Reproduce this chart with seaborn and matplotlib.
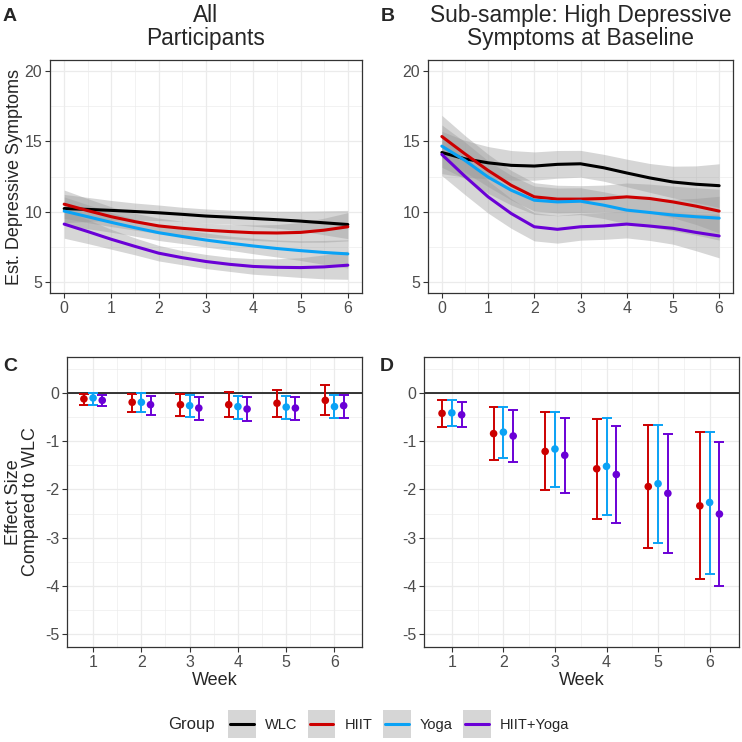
import numpy as np
import pandas as pd
import matplotlib
matplotlib.use("Agg")
import matplotlib.pyplot as plt
from matplotlib.patches import Rectangle
from matplotlib.lines import Line2D
import seaborn as sns

sns.set_style("whitegrid")
plt.rcParams['font.family'] = ['Liberation Sans', 'DejaVu Sans']
plt.rcParams['axes.unicode_minus'] = False

groups = ['WLC', 'HIIT', 'Yoga', 'HIIT+Yoga']
colors = {'WLC': '#000000', 'HIIT': '#CC0000', 'Yoga': '#0AA2F5', 'HIIT+Yoga': '#6A00D6'}

# smoothed trajectories, read every half week
weeks_fine = [0, 0.5, 1, 1.5, 2, 2.5, 3, 3.5, 4, 4.5, 5, 5.5, 6]

a_wlc = [10.23, 10.17, 10.1, 10.02, 9.93, 9.82, 9.7, 9.62, 9.53, 9.44, 9.34, 9.22, 9.1]
a_hiit = [10.54, 10.08, 9.65, 9.3, 9.0, 8.83, 8.7, 8.6, 8.52, 8.5, 8.54, 8.7, 8.94]
a_yoga = [10.05, 9.65, 9.25, 8.87, 8.52, 8.25, 8.0, 7.78, 7.58, 7.4, 7.25, 7.12, 7.02]
a_combo = [9.13, 8.6, 8.05, 7.55, 7.07, 6.75, 6.48, 6.28, 6.13, 6.07, 6.05, 6.1, 6.22]
a_ci = [1.0, 0.85, 0.7, 0.6, 0.55, 0.5, 0.5, 0.5, 0.55, 0.6, 0.7, 0.85, 1.0]

b_wlc = [14.2, 13.75, 13.47, 13.29, 13.24, 13.36, 13.4, 13.12, 12.75, 12.4, 12.11, 11.95, 11.85]
b_hiit = [15.33, 14.1, 12.93, 11.88, 11.06, 10.9, 10.9, 10.94, 11.06, 10.94, 10.7, 10.4, 10.05]
b_yoga = [14.65, 13.64, 12.46, 11.53, 10.82, 10.7, 10.75, 10.47, 10.12, 9.95, 9.77, 9.65, 9.55]
b_combo = [14.06, 12.51, 11.06, 9.88, 8.94, 8.76, 8.94, 9.0, 9.13, 8.99, 8.83, 8.54, 8.29]
b_ci = [1.5, 1.3, 1.15, 1.05, 1.0, 0.98, 0.95, 0.95, 0.98, 1.02, 1.12, 1.3, 1.55]

# effect sizes vs WLC
weeks = [1, 2, 3, 4, 5, 6]
c_hiit = [-0.12, -0.19, -0.24, -0.24, -0.21, -0.15]
c_hiit_lo = [-0.24, -0.39, -0.48, -0.50, -0.49, -0.45]
c_hiit_hi = [-0.01, -0.01, -0.01, 0.02, 0.06, 0.16]
c_yoga = [-0.10, -0.19, -0.26, -0.28, -0.29, -0.28]
c_yoga_lo = [-0.25, -0.39, -0.50, -0.54, -0.53, -0.52]
c_yoga_hi = [0.01, 0.00, -0.03, -0.05, -0.06, -0.04]
c_combo = [-0.15, -0.24, -0.31, -0.33, -0.31, -0.26]
c_combo_lo = [-0.26, -0.45, -0.55, -0.58, -0.55, -0.52]
c_combo_hi = [-0.03, -0.06, -0.07, -0.09, -0.07, -0.03]

d_hiit = [-0.42, -0.84, -1.21, -1.57, -1.94, -2.34]
d_hiit_lo = [-0.70, -1.39, -2.01, -2.62, -3.22, -3.86]
d_hiit_hi = [-0.15, -0.28, -0.40, -0.53, -0.66, -0.81]
d_yoga = [-0.41, -0.81, -1.16, -1.52, -1.88, -2.27]
d_yoga_lo = [-0.68, -1.34, -1.94, -2.54, -3.11, -3.75]
d_yoga_hi = [-0.15, -0.28, -0.39, -0.52, -0.66, -0.80]
d_combo = [-0.45, -0.89, -1.29, -1.69, -2.08, -2.51]
d_combo_lo = [-0.71, -1.43, -2.07, -2.70, -3.31, -4.00]
d_combo_hi = [-0.18, -0.35, -0.51, -0.68, -0.84, -1.02]

W = 742.0
fig = plt.figure(figsize=(7.42, 7.42), dpi=100)


def add_ax(left, top, right, bottom):
    return fig.add_axes([left / W, 1 - bottom / W, (right - left) / W, (bottom - top) / W])


axA = add_ax(50, 60, 362, 293)
axB = add_ax(428, 60, 733, 293)
axC = add_ax(67, 357, 362, 647)
axD = add_ax(424, 357, 739, 647)


def style(ax):
    ax.set_facecolor('white')
    for s in ax.spines.values():
        s.set_color('#333333')
        s.set_linewidth(0.9)
        s.set_visible(True)
    ax.grid(True, which='major', color='#EBEBEB', linewidth=0.9)
    ax.grid(True, which='minor', color='#EBEBEB', linewidth=0.45)
    ax.set_axisbelow(True)
    ax.tick_params(axis='both', which='major', length=3.5, width=0.8, color='#333333',
                   labelsize=11.5, labelcolor='#4D4D4D', pad=2, left=True, bottom=True)
    ax.tick_params(which='minor', length=0)


def smooth_panel(ax, vals, ci):
    for g, v in zip(groups, vals):
        v = np.array(v)
        c = np.array(ci)
        ax.fill_between(weeks_fine, v - c, v + c, color='#999999', alpha=0.4, linewidth=0)
        df = pd.DataFrame({'week': weeks_fine, 'y': v})
        sns.lineplot(data=df, x='week', y='y', color=colors[g], linewidth=2.2, ax=ax)
    ax.set_xlim(-0.3, 6.3)
    ax.set_ylim(4.25, 20.75)
    ax.set_xticks(range(7))
    ax.set_xticks(np.arange(0.5, 6, 1), minor=True)
    ax.set_yticks([5, 10, 15, 20])
    ax.set_yticks([7.5, 12.5, 17.5], minor=True)
    ax.set_xlabel('')
    ax.set_ylabel('')
    style(ax)


def effect_panel(ax, series):
    offs = {'HIIT': -0.19, 'Yoga': 0.0, 'HIIT+Yoga': 0.19}
    ax.axhline(0, color='black', linewidth=1.1, zorder=2)
    for g, (est, lo, hi) in series.items():
        x = np.array(weeks) + offs[g]
        est = np.array(est)
        ax.errorbar(x, est, yerr=[est - np.array(lo), np.array(hi) - est], fmt='none',
                    ecolor=colors[g], elinewidth=1.4, capsize=3.6, capthick=1.4, zorder=3)
        df = pd.DataFrame({'week': x, 'es': est})
        sns.scatterplot(data=df, x='week', y='es', color=colors[g], s=30, edgecolor='none',
                        ax=ax, zorder=4)
    ax.set_xlim(0.46, 6.57)
    ax.set_ylim(-5.27, 0.75)
    ax.set_xticks(weeks)
    ax.set_xticks(np.arange(1.5, 6, 1), minor=True)
    ax.set_yticks([0, -1, -2, -3, -4, -5])
    ax.set_yticks([0.5, -0.5, -1.5, -2.5, -3.5, -4.5], minor=True)
    ax.set_xlabel('Week', fontsize=13, labelpad=2)
    ax.set_ylabel('')
    style(ax)


smooth_panel(axA, [a_wlc, a_hiit, a_yoga, a_combo], a_ci)
smooth_panel(axB, [b_wlc, b_hiit, b_yoga, b_combo], b_ci)
effect_panel(axC, {'HIIT': (c_hiit, c_hiit_lo, c_hiit_hi),
                   'Yoga': (c_yoga, c_yoga_lo, c_yoga_hi),
                   'HIIT+Yoga': (c_combo, c_combo_lo, c_combo_hi)})
effect_panel(axD, {'HIIT': (d_hiit, d_hiit_lo, d_hiit_hi),
                   'Yoga': (d_yoga, d_yoga_lo, d_yoga_hi),
                   'HIIT+Yoga': (d_combo, d_combo_lo, d_combo_hi)})

axA.set_title('All\nParticipants', fontsize=16.4, pad=11, linespacing=1.0)
axB.set_title('Sub-sample: High Depressive\nSymptoms at Baseline', fontsize=16.4, pad=11, linespacing=1.0)

axA.set_ylabel('Est. Depressive Symptoms', fontsize=13)
axA.yaxis.set_label_coords(-0.088, 0.5)
axC.set_ylabel('Effect Size\nCompared to WLC', fontsize=13, linespacing=1.0)
axC.yaxis.set_label_coords(-0.095, 0.5)

for lab, x, y in [('A', 3, 8), ('B', 381, 8), ('C', 3, 358), ('D', 380, 358)]:
    fig.text(x / W, 1 - y / W, lab, fontsize=14, fontweight='bold', ha='left', va='top')


class KeyHandler:
    # grey square key with a coloured line, like the ggplot legend
    def legend_artist(self, legend, orig_handle, fontsize, handlebox):
        x0, y0 = handlebox.xdescent, handlebox.ydescent
        w, h = handlebox.width, handlebox.height
        tr = handlebox.get_transform()
        side = 20
        cx, cy = x0 + w / 2, y0 + h / 2
        rect = Rectangle((cx - side / 2, cy - side / 2), side, side, facecolor='#D6D6D6',
                         edgecolor='none', transform=tr)
        line = Line2D([cx - 8.5, cx + 8.5], [cy, cy],
                      color=orig_handle.get_color(), linewidth=2.2, transform=tr)
        handlebox.add_artist(rect)
        handlebox.add_artist(line)
        return rect


handles = [Line2D([], [], color=colors[g]) for g in groups]
fig.legend(handles, groups, ncol=4, loc='center', bbox_to_anchor=(400 / W, 1 - 725 / W),
           frameon=False, fontsize=10.5, handlelength=1.55, handleheight=0.7,
           handletextpad=0.8, columnspacing=0.9, handler_map={Line2D: KeyHandler()})
fig.text(168 / W, 1 - 725 / W, 'Group', fontsize=12, ha='left', va='center')

fig.savefig('out.png', dpi=100)
